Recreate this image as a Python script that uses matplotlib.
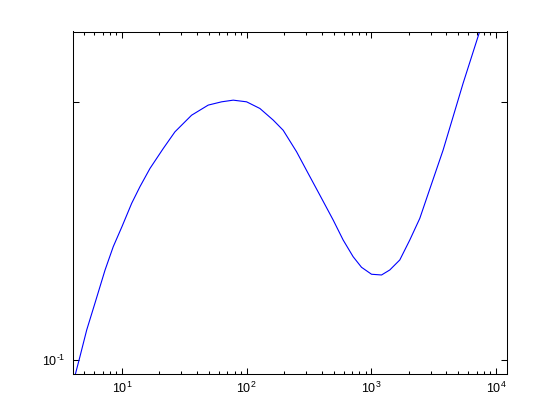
import matplotlib
matplotlib.use("Agg")
import matplotlib.pyplot as plt
from matplotlib.ticker import FixedLocator, NullLocator, LogLocator

plt.rcParams['font.family'] = ['Liberation Sans', 'DejaVu Sans']
plt.rcParams['mathtext.fontset'] = 'custom'
plt.rcParams['mathtext.rm'] = 'Liberation Sans'
plt.rcParams['mathtext.it'] = 'Liberation Sans'
plt.rcParams['mathtext.default'] = 'regular'

x_vals = [4.2, 4.60, 5.21, 6.07, 7.31, 8.51, 10.0, 11.96, 13.94, 16.77, 21.44, 26.6,
          36.2, 49.2, 63.0, 78.1, 100, 127.9, 163.5, 196.6, 251.8, 312, 387, 495,
          595.5, 716, 836, 1006, 1210, 1410, 1696, 2040, 2454, 2860, 3773,
          4538, 5458, 7330, 7570]
y_vals = [0.087, 0.103, 0.1306, 0.166, 0.223, 0.275, 0.329, 0.405, 0.470, 0.553, 0.661, 0.767,
          0.890, 0.974, 1.003, 1.018, 1.003, 0.945, 0.852, 0.778, 0.642, 0.529, 0.436, 0.349,
          0.2918, 0.2514, 0.2287, 0.2149, 0.2135, 0.2233, 0.2442, 0.2918, 0.354, 0.44, 0.651,
          0.877, 1.182, 1.846, 1.936]

x_limits = (4.03, 12250)
y_limits = (0.0883, 1.88)
x_ticks = [10, 100, 1000, 10000]
x_ticklabels = [r'$10^{1}$', r'$10^{2}$', r'$10^{3}$', r'$10^{4}$']
y_ticks = [0.1, 1.0]
y_ticklabels = [r'$10^{\text{-}1}$', '']

fig = plt.figure(figsize=(5.6, 4.2), dpi=100)
ax = fig.add_axes([0.13, 0.11, 0.775, 0.815])
ax.plot(x_vals, y_vals, color=(0, 0, 1), lw=0.8)
ax.set_xscale('log')
ax.set_yscale('log')
ax.set_xlim(*x_limits)
ax.set_ylim(*y_limits)

ax.xaxis.set_major_locator(FixedLocator(x_ticks))
ax.set_xticklabels(x_ticklabels)
ax.xaxis.set_minor_locator(LogLocator(base=10, subs=range(2, 10)))
ax.xaxis.set_minor_formatter(plt.NullFormatter())
ax.yaxis.set_major_locator(FixedLocator(y_ticks))
ax.set_yticklabels(y_ticklabels)
ax.yaxis.set_minor_locator(NullLocator())

for s in ax.spines.values():
    s.set_linewidth(0.75)
ax.tick_params(which='both', direction='in', top=True, right=True, labelsize=9, width=0.75, pad=5)
ax.tick_params(which='major', length=4.3)
ax.tick_params(which='minor', length=2.5)

fig.savefig('out.png', dpi=100)
